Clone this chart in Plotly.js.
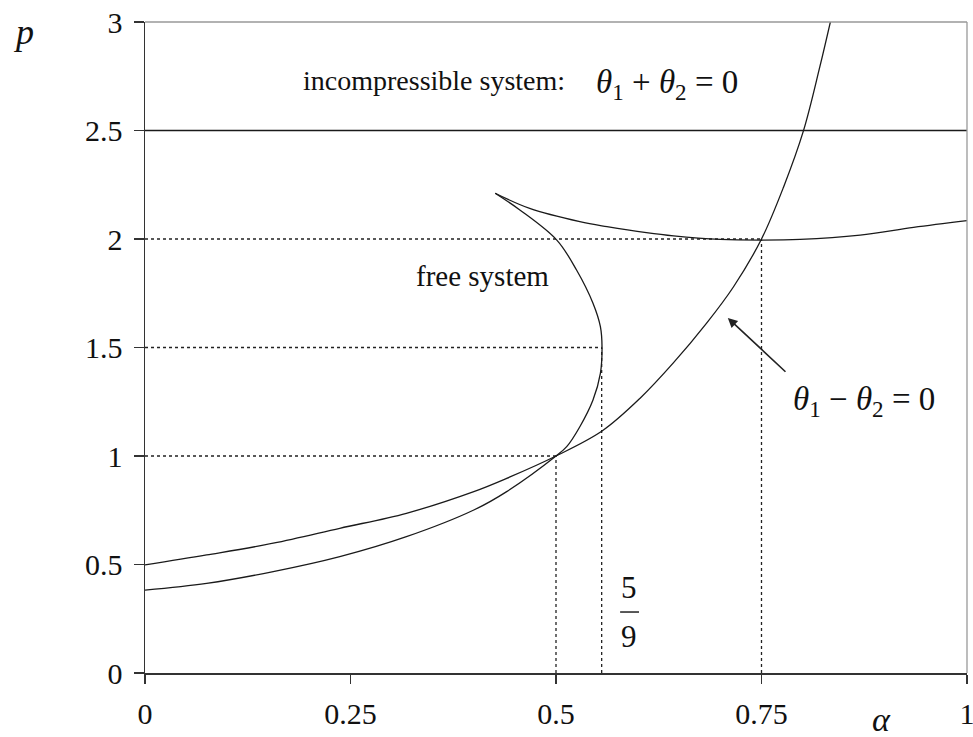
<!DOCTYPE html>
<html>
<head>
<meta charset="utf-8">
<script src="https://cdn.plot.ly/plotly-3.0.1.min.js"></script>
<style>html,body{margin:0;padding:0;background:#fff;}#chart{width:973px;height:737px;}</style>
</head>
<body>
<div id="chart"></div>
<script>
// ---- data ----
// free system curve: lower branch through the turning point up to the cusp
var freeLowerAlpha = [0, 0.075, 0.156, 0.237, 0.318, 0.40, 0.44, 0.50, 0.513, 0.529, 0.545, 0.554, 0.556, 0.554, 0.545, 0.525, 0.501, 0.456, 0.426];
var freeLowerP     = [0.382, 0.413, 0.467, 0.536, 0.628, 0.751, 0.836, 1.0, 1.043, 1.135, 1.258, 1.381, 1.5, 1.596, 1.704, 1.857, 1.995, 2.134, 2.211];
// free system curve: upper branch from the cusp to alpha = 1
var freeUpperAlpha = [0.426, 0.468, 0.529, 0.562, 0.610, 0.643, 0.70, 0.75, 0.797, 0.87, 0.935, 1.0];
var freeUpperP     = [2.211, 2.141, 2.080, 2.057, 2.029, 2.014, 1.998, 1.995, 1.998, 2.018, 2.054, 2.085];
// theta1 - theta2 = 0 curve
var thetaAlpha = [0, 0.075, 0.156, 0.237, 0.318, 0.40, 0.44, 0.50, 0.556, 0.602, 0.643, 0.683, 0.716, 0.75, 0.777, 0.801, 0.821, 0.835];
var thetaP     = [0.498, 0.544, 0.598, 0.667, 0.736, 0.836, 0.897, 1.0, 1.115, 1.265, 1.43, 1.611, 1.780, 2.0, 2.241, 2.498, 2.794, 3.02];
// incompressible system level
var incompP = 2.5;
// dotted reference points (alpha, p)
var refAlpha = [0.5, 5/9, 0.75];
var refP     = [1, 1.5, 2];
// ticks
var xTickVals = [0, 0.25, 0.5, 0.75, 1];
var xTickText = ['0', '0.25', '0.5', '0.75', '1'];
var yTickVals = [0, 0.5, 1, 1.5, 2, 2.5, 3];
var yTickText = ['0', '0.5', '1', '1.5', '2', '2.5', '3'];

var serif = 'Liberation Serif, Times New Roman, serif';
var lineCol = '#1a1a1a';
var traces = [];

// dotted guides
refAlpha.forEach(function (a, i) {
  traces.push({x: [0, a], y: [refP[i], refP[i]], mode: 'lines', line: {color: '#222', width: 1.3, dash: 'dot'}, hoverinfo: 'skip'});
  traces.push({x: [a, a], y: [0, refP[i]], mode: 'lines', line: {color: '#222', width: 1.3, dash: 'dot'}, hoverinfo: 'skip'});
});
// incompressible line
traces.push({x: [0, 1], y: [incompP, incompP], mode: 'lines', line: {color: lineCol, width: 1.3}, name: 'incompressible'});
// curves
traces.push({x: freeLowerAlpha, y: freeLowerP, mode: 'lines', line: {color: lineCol, width: 1.3, shape: 'spline', smoothing: 1}, name: 'free lower'});
traces.push({x: freeUpperAlpha, y: freeUpperP, mode: 'lines', line: {color: lineCol, width: 1.3, shape: 'spline', smoothing: 1}, name: 'free upper'});
traces.push({x: thetaAlpha, y: thetaP, mode: 'lines', line: {color: lineCol, width: 1.3, shape: 'spline', smoothing: 1}, name: 'theta1-theta2'});

var layout = {
  width: 973, height: 737,
  margin: {l: 145, r: 6, t: 22, b: 64},
  paper_bgcolor: '#fff', plot_bgcolor: '#fff',
  showlegend: false,
  xaxis: {
    range: [0, 1], showgrid: false, zeroline: false,
    showline: true, linecolor: '#333', linewidth: 1.5,
    ticks: 'outside', ticklen: 9, tickwidth: 1.5, tickcolor: '#333',
    tickvals: xTickVals, ticktext: xTickText, ticklabeloverflow: 'allow',
    tickfont: {family: serif, size: 30, color: '#111'}, ticklabelstandoff: 4
  },
  yaxis: {
    range: [0, 3], showgrid: false, zeroline: false,
    showline: true, linecolor: '#333', linewidth: 1.5,
    ticks: 'outside', ticklen: 10, tickwidth: 1.5, tickcolor: '#333',
    tickvals: yTickVals, ticktext: yTickText, ticklabeloverflow: 'allow',
    tickfont: {family: serif, size: 30, color: '#111'}, ticklabelstandoff: 5
  },
  shapes: [
    {type: 'line', xref: 'paper', yref: 'paper', x0: 0, x1: 1, y0: 1, y1: 1, line: {color: '#999', width: 1.3}},
    {type: 'line', xref: 'paper', yref: 'paper', x0: 1, x1: 1, y0: 0, y1: 1, line: {color: '#999', width: 1.3}},
    {type: 'line', xref: 'x', yref: 'y', x0: 0.578, x1: 0.601, y0: 0.281, y1: 0.281, line: {color: '#222', width: 1.5}}
  ],
  annotations: [
    {x: -0.1484, y: 0.9846, xref: 'paper', yref: 'paper', xanchor: 'center', yanchor: 'middle', text: '<i>p</i>', showarrow: false, font: {family: serif, size: 36, color: '#111'}},
    {x: 0.8954, y: -0.0707, xref: 'paper', yref: 'paper', xanchor: 'center', yanchor: 'middle', text: '<i>α</i>', showarrow: false, font: {family: serif, size: 34, color: '#111'}},
    {x: 0.352, y: 2.73, xref: 'x', yref: 'y', text: 'incompressible system:', showarrow: false, font: {family: serif, size: 28, color: '#111'}},
    {x: 0.635, y: 2.71, xref: 'x', yref: 'y', text: '<i>θ</i><sub>1</sub> + <i>θ</i><sub>2</sub> = 0', showarrow: false, font: {family: serif, size: 33, color: '#111'}},
    {x: 0.41, y: 1.83, xref: 'x', yref: 'y', text: 'free system', showarrow: false, font: {family: serif, size: 29, color: '#111'}},
    {x: 0.875, y: 1.253, xref: 'x', yref: 'y', text: '<i>θ</i><sub>1</sub> − <i>θ</i><sub>2</sub> = 0', showarrow: false, font: {family: serif, size: 33, color: '#111'}},
    {x: 0.709, y: 1.636, ax: 0.781, ay: 1.382, xref: 'x', yref: 'y', axref: 'x', ayref: 'y', text: '', showarrow: true, arrowhead: 2, arrowsize: 1.2, arrowwidth: 1.6, arrowcolor: '#222'},
    {x: 0.589, y: 0.394, xref: 'x', yref: 'y', text: '5', showarrow: false, font: {family: serif, size: 31, color: '#111'}},
    {x: 0.589, y: 0.166, xref: 'x', yref: 'y', text: '9', showarrow: false, font: {family: serif, size: 31, color: '#111'}}
  ]
};

Plotly.newPlot('chart', traces, layout, {staticPlot: true, displayModeBar: false});
</script>
</body>
</html>
